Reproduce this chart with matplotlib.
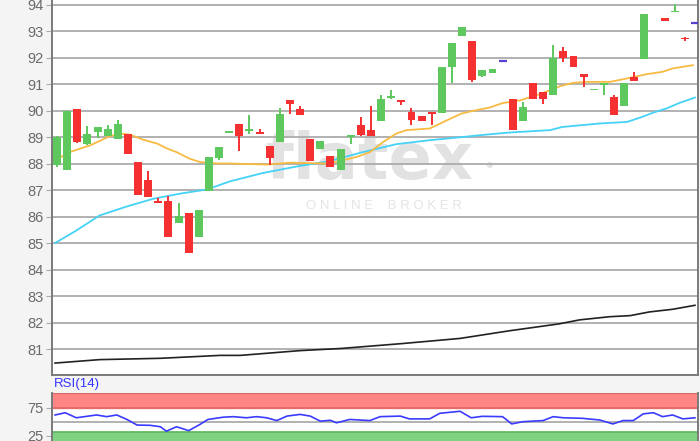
import numpy as np
import matplotlib
matplotlib.use("Agg")
import matplotlib.pyplot as plt

plt.rcParams['font.family'] = ['Liberation Sans', 'DejaVu Sans']

# candles, one slot per trading day (slot 59 is empty)
opens = [87.93, 87.77, 90.05, 88.72, 89.19, 89.04, 88.91, 89.13, 88.05, 87.36,
         86.57, 86.58, 85.77, 86.13, 85.22, 86.95, 88.21, 89.15, 89.48, 89.23,
         89.18, 88.65, 88.81, 90.39, 90.05, 88.92, 88.56, 88.30, 87.77, 89.00,
         89.47, 89.28, 89.60, 90.48, 90.39, 89.95, 89.81, 89.92, 89.89, 91.65,
         92.82, 92.61, 91.31, 91.42, 91.86, 90.45, 89.61, 91.04, 90.70, 90.58,
         92.25, 92.05, 91.37, 90.77, 90.98, 90.51, 90.16, 91.25, 91.94, np.nan,
         93.48, 93.71, 92.72, 93.29]
highs = [89.02, 89.97, 90.05, 89.42, 89.36, 89.44, 89.63, 89.13, 88.05, 87.70,
         86.68, 86.76, 86.52, 86.13, 86.26, 88.25, 88.62, 89.20, 89.48, 89.82,
         89.32, 88.65, 90.11, 90.39, 90.16, 88.92, 88.84, 88.30, 88.53, 89.09,
         89.74, 90.16, 90.58, 90.79, 90.39, 90.11, 89.81, 89.92, 91.63, 92.56,
         93.16, 92.61, 91.52, 91.57, 91.86, 90.45, 90.33, 91.04, 90.70, 92.47,
         92.40, 92.05, 91.37, 90.83, 91.04, 90.60, 91.02, 91.46, 93.64, np.nan,
         93.48, 94.02, 92.78, 93.29]
lows = [87.85, 87.77, 88.79, 88.70, 88.96, 89.04, 88.91, 88.37, 86.81, 86.73,
        86.51, 85.22, 85.77, 84.63, 85.22, 86.95, 88.12, 89.15, 88.46, 89.13,
        89.10, 87.96, 88.81, 89.85, 89.82, 88.08, 88.56, 87.85, 87.77, 88.75,
        89.03, 89.03, 89.60, 90.43, 90.19, 89.44, 89.60, 89.47, 89.89, 91.02,
        92.82, 91.08, 91.25, 91.42, 91.86, 89.26, 89.61, 90.45, 90.24, 90.58,
        91.84, 91.65, 90.89, 90.77, 90.58, 89.82, 90.16, 91.11, 91.94, np.nan,
        93.39, 93.71, 92.62, 93.29]
closes = [89.00, 89.97, 88.83, 89.13, 89.36, 89.32, 89.48, 88.37, 86.81, 86.73,
          86.51, 85.22, 86.02, 84.63, 86.26, 88.25, 88.62, 89.20, 89.04, 89.32,
          89.10, 88.22, 89.86, 90.23, 89.82, 88.08, 88.84, 87.85, 88.53, 89.09,
          89.09, 89.03, 90.42, 90.54, 90.34, 89.66, 89.60, 89.88, 91.63, 92.56,
          93.16, 91.15, 91.52, 91.57, 91.86, 89.26, 90.14, 90.45, 90.42, 92.00,
          91.97, 91.65, 91.25, 90.83, 91.04, 89.82, 91.02, 91.11, 93.64, np.nan,
          93.39, 93.75, 92.68, 93.29]

# moving averages, vertices (slot position, price)
ma_short_x = [-0.3, 1.0, 3.3, 5.2, 6.2, 7.2, 8.5, 9.9, 10.9, 11.8, 13.1, 14.1, 15.8,
              17.1, 20.7, 23.0, 26.9, 29.6, 30.9, 32.2, 33.5, 34.5, 36.8, 38.5,
              39.9, 41.1, 42.7, 44.0, 45.7, 47.7, 49.7, 50.9, 52.3, 54.6, 56.3,
              58.2, 59.8, 60.8, 62.8]
ma_short_y = [88.06, 88.40, 88.69, 89.03, 89.13, 89.09, 88.90, 88.75, 88.56, 88.43,
              88.18, 88.06, 88.00, 88.00, 87.96, 88.03, 88.00, 88.25, 88.43, 88.81,
              89.13, 89.26, 89.32, 89.63, 89.88, 89.99, 90.11, 90.28, 90.38, 90.62,
              90.92, 91.04, 91.08, 91.08, 91.21, 91.37, 91.46, 91.59, 91.71]
ma_mid_x = [-0.2, 1.9, 4.2, 6.9, 9.5, 12.1, 14.8, 17.1, 20.3, 23.7, 26.9, 30.2,
            33.5, 36.8, 39.8, 41.8, 44.7, 48.7, 49.9, 53.6, 56.3, 57.8, 58.8,
            60.2, 61.5, 63.0]
ma_mid_y = [85.00, 85.47, 86.04, 86.38, 86.67, 86.86, 87.02, 87.33, 87.64, 87.89,
            88.09, 88.43, 88.73, 88.88, 88.99, 89.07, 89.17, 89.26, 89.38, 89.51,
            89.57, 89.76, 89.91, 90.08, 90.29, 90.49]
ma_long_x = [-0.2, 4.2, 10.2, 16.1, 18.1, 24.0, 28.0, 33.9, 39.8, 44.7, 49.6,
             51.6, 54.6, 56.6, 58.5, 60.8, 63.0]
ma_long_y = [80.47, 80.60, 80.65, 80.76, 80.76, 80.94, 81.02, 81.20, 81.40, 81.69,
             81.95, 82.10, 82.22, 82.26, 82.40, 82.50, 82.65]

rsi_x = [-0.2, 0.8, 1.9, 3.9, 4.9, 5.9, 6.9, 7.9, 9.2, 10.2, 10.8, 11.8, 13.0,
         14.1, 14.9, 16.4, 17.4, 18.7, 19.7, 20.7, 21.7, 22.7, 24.0, 25.0, 26.0,
         27.0, 27.6, 28.9, 30.9, 31.9, 33.9, 34.8, 36.8, 37.8, 39.8, 40.9, 42.0,
         44.0, 44.9, 46.0, 48.0, 49.0, 50.0, 51.9, 53.6, 54.9, 55.9, 56.9, 57.9,
         58.9, 59.8, 60.8, 61.8, 63.0]
rsi_y = [62, 66, 57, 62, 59, 62, 54, 44, 43.5, 41, 33, 41, 34, 45, 54, 58, 59, 57,
         59, 57, 52, 60, 63, 60, 51, 52.5, 48, 54, 52, 59, 60, 55, 55, 65, 68.6,
         57, 59.6, 59, 46, 50, 52, 59, 57, 56, 53, 46, 52, 52, 64, 66, 59, 62, 55, 57]

price_ticks = list(range(81, 95))

GREEN = '#5ec85e'
RED = '#f53030'
DOJI = '#5b3fd0'
GRID = '#ababab'
TXT = '#6a6a6a'

fig = plt.figure(figsize=(7, 4.41), dpi=100, facecolor='#f4f4f4')
ax = fig.add_axes([52 / 700, 66 / 441, 646 / 700, 375 / 441], facecolor='white')
ax2 = fig.add_axes([52 / 700, 0, 646 / 700, 48.3 / 441], facecolor='white')

# watermark, behind grid and candles
ax.text(370 / 700, 1 - 161 / 441, 'flatex', color='#e2e2e2', fontsize=46,
        fontweight='bold', ha='center', va='center', family='DejaVu Sans',
        transform=fig.transFigure, zorder=0.5)
ax.text(489 / 700, 1 - 167 / 441, '\u2022', color='#e2e2e2', fontsize=16,
        ha='center', va='center', transform=fig.transFigure, zorder=0.5)
ax.text(384 / 700, 1 - 206 / 441, 'O N L I N E    B R O K E R', color='#e4e4e4',
        fontsize=9.5, ha='center', va='center', transform=fig.transFigure, zorder=0.5)

for y in price_ticks:
    ax.axhline(y, color=GRID, lw=1.3, zorder=1)

ax.plot(ma_long_x, ma_long_y, color='#222222', lw=1.2, zorder=2)
ax.plot(ma_mid_x, ma_mid_y, color='#45d2f7', lw=1.3, zorder=2)
ax.plot(ma_short_x, ma_short_y, color='#f7bb44', lw=1.3, zorder=2)

w = 0.78
for i in range(len(opens)):
    o, h, l, c = opens[i], highs[i], lows[i], closes[i]
    if np.isnan(o):
        continue
    if abs(c - o) < 0.005:
        ax.hlines(c, i - w / 2, i + w / 2, color=DOJI, lw=1.6, zorder=3)
        continue
    col = GREEN if c > o else RED
    ax.vlines(i, l, h, color=col, lw=1.4, zorder=3)
    ax.bar(i, max(abs(c - o), 0.06), w, bottom=min(o, c), color=col, zorder=4)

ax.set_xlim(-0.5, 63.3)
ax.set_ylim(80.02, 94.17)
ax.set_yticks(price_ticks)
ax.set_xticks([])
ax.tick_params(axis='y', length=4, color=GRID, labelcolor=TXT, labelsize=10.5, pad=2)
ax.spines['top'].set_visible(False)
for s in ['left', 'bottom', 'right']:
    ax.spines[s].set_color('#7a7a7a')
    ax.spines[s].set_linewidth(1.4)

# RSI panel
ax2.axhspan(74, 102, color='#ff8585', zorder=1)
ax2.axhline(74, color='#e06666', lw=1.2, zorder=1)
ax2.axhline(101.3, color='#d06060', lw=1.2, zorder=1)
ax2.axhspan(0, 32, color='#7fd27f', zorder=1)
ax2.axhline(32, color='#5cb85c', lw=1.2, zorder=1)
ax2.axhline(50, color=GRID, lw=1.3, zorder=1)
ax2.plot(rsi_x, rsi_y, color='#3b3bff', lw=1.2, zorder=3)
ax2.set_xlim(-0.5, 63.3)
ax2.set_ylim(15.5, 101.8)
ax2.set_yticks([75, 25])
ax2.set_xticks([])
ax2.tick_params(axis='y', length=4, color=GRID, labelcolor=TXT, labelsize=10.5, pad=2)
for s in ['top', 'bottom']:
    ax2.spines[s].set_visible(False)
for s in ['left', 'right']:
    ax2.spines[s].set_color('#7a7a7a')
    ax2.spines[s].set_linewidth(1.4)
fig.text(54 / 700, 1 - 384 / 441, 'RSI(14)', color='#3333ff', fontsize=9.5,
         ha='left', va='center')

fig.savefig('out.png', dpi=100, facecolor=fig.get_facecolor())
